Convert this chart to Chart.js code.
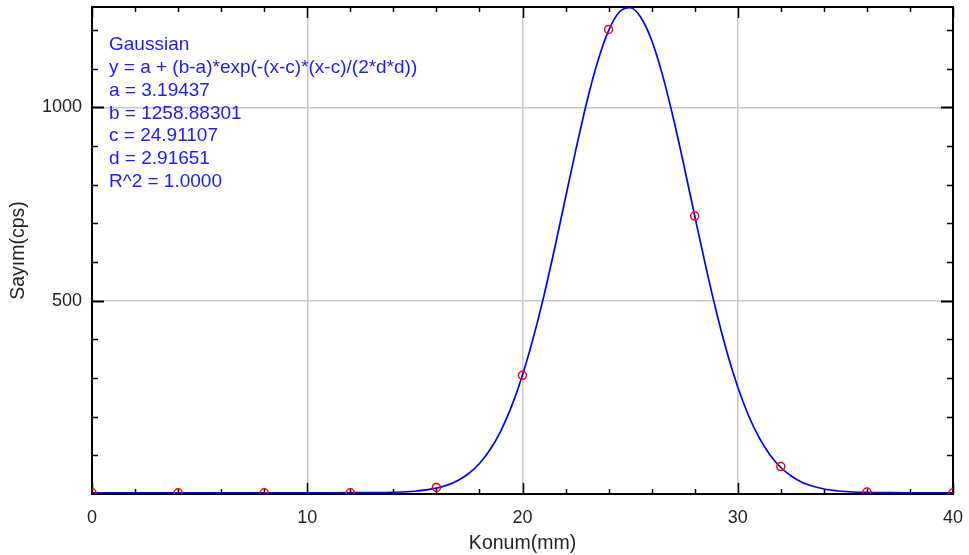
<!DOCTYPE html>
<html>
<head>
<meta charset="utf-8">
<script src="https://cdn.jsdelivr.net/npm/chart.js@4.4.1/dist/chart.umd.min.js"></script>
<style>
html,body{margin:0;padding:0;background:#fff;}
#wrap{width:969px;height:555px;position:relative;}
</style>
</head>
<body>
<div id="wrap"><canvas id="c"></canvas></div>
<script>
// Measured points (Konum mm, Sayım cps)
const pointX = [0, 4, 8, 12, 16, 20, 24, 28, 32, 36, 40];
const pointY = [3, 3, 3, 3, 17, 307, 1202, 719, 71, 5, 3];

// Fitted curve
const curveX = [0, 2, 4, 6, 8, 10, 12, 13, 14, 15, 16, 16.5, 17, 17.5, 18, 18.5, 19, 19.5, 20, 20.5, 21, 21.5, 22, 22.5, 23, 23.5, 24, 24.5, 25, 25.5, 26, 26.5, 27, 27.5, 28, 28.5, 29, 29.5, 30, 30.5, 31, 31.5, 32, 32.5, 33, 33.5, 34, 35, 36, 37, 38, 40];
const curveY = [3.2, 3.2, 3.2, 3.2, 3.2, 3.2, 3.3, 3.5, 4.3, 7.1, 15, 23, 35, 53, 79, 115, 164, 228, 308, 404, 514, 637, 767, 896, 1017, 1120, 1199, 1247, 1258, 1233, 1174, 1085, 974, 850, 720, 592, 473, 367, 277, 203, 145, 101, 68.6, 46, 30, 20, 13, 6.4, 4.1, 3.4, 3.2, 3.2];

const fitLines = [
  "Gaussian",
  "y = a + (b-a)*exp(-(x-c)*(x-c)/(2*d*d))",
  "a = 3.19437",
  "b = 1258.88301",
  "c = 24.91107",
  "d = 2.91651",
  "R^2 = 1.0000"
];

const xMajor = [0, 10, 20, 30, 40];
const yMajor = [500, 1000];
const xLabel = "Konum(mm)";
const yLabel = "Sayım(cps)";

const FONT = "'Liberation Sans', Arial, sans-serif";

const frame = {
  id: 'frame',
  beforeDatasetsDraw(chart) {
    const {ctx, chartArea: a, scales: {x, y}} = chart;
    ctx.save();
    ctx.strokeStyle = '#000';
    ctx.lineWidth = 1.5;
    for (let v = 0; v <= 40; v += 2) {
      const px = Math.round(x.getPixelForValue(v)) + 0.5;
      const len = (v % 10 === 0) ? 11 : 5;
      ctx.beginPath();
      ctx.moveTo(px, a.bottom); ctx.lineTo(px, a.bottom - len);
      ctx.moveTo(px, a.top); ctx.lineTo(px, a.top + len);
      ctx.stroke();
    }
    for (let v = 100; v < 1260; v += 100) {
      const py = Math.round(y.getPixelForValue(v)) + 0.5;
      const len = (v % 500 === 0) ? 12 : 6;
      ctx.lineWidth = (v % 500 === 0) ? 2 : 1.5;
      ctx.beginPath();
      ctx.moveTo(a.left, py); ctx.lineTo(a.left + len, py);
      ctx.moveTo(a.right, py); ctx.lineTo(a.right - len, py);
      ctx.stroke();
    }
    ctx.lineWidth = 2;
    ctx.strokeRect(a.left, a.top, a.right - a.left, a.bottom - a.top);
    ctx.restore();
  },
  afterDraw(chart) {
    const {ctx} = chart;
    ctx.save();
    ctx.fillStyle = '#1a1aff';
    ctx.font = "19px " + FONT;
    ctx.textBaseline = 'middle';
    ctx.textAlign = 'left';
    fitLines.forEach((t, i) => ctx.fillText(t, 109, 45 + i * 22.8));
    ctx.restore();
  }
};

new Chart(document.getElementById('c'), {
  type: 'scatter',
  data: {
    datasets: [
      {
        label: 'fit',
        data: curveX.map((v, i) => ({x: v, y: curveY[i]})),
        showLine: true,
        borderColor: '#0000ff',
        borderWidth: 1.7,
        pointRadius: 0,
        cubicInterpolationMode: 'monotone',
        clip: 0,
        order: 2
      },
      {
        label: 'data',
        data: pointX.map((v, i) => ({x: v, y: pointY[i]})),
        showLine: false,
        borderColor: '#ff0000',
        backgroundColor: 'rgba(0,0,0,0)',
        borderWidth: 1.5,
        pointRadius: 4,
        clip: 0,
        order: 1
      }
    ]
  },
  options: {
    responsive: true,
    maintainAspectRatio: false,
    animation: false,
    layout: {padding: {top: 7, right: 16, left: 0, bottom: 0}},
    plugins: {legend: {display: false}, tooltip: {enabled: false}},
    scales: {
      x: {
        type: 'linear', min: 0, max: 40,
        border: {display: false},
        afterBuildTicks: s => { s.ticks = xMajor.map(v => ({value: v})); },
        ticks: {
          autoSkip: false, maxRotation: 0,
          color: '#222', padding: 13,
          font: {family: FONT, size: 18},
          callback: v => String(v)
        },
        grid: {
          drawTicks: false,
          lineWidth: 1.5,
          color: c => (c.tick && c.tick.value > 0 && c.tick.value < 40) ? '#c8c8c8' : 'rgba(0,0,0,0)'
        },
        title: {display: true, text: xLabel, color: '#222', font: {family: FONT, size: 19.5}, padding: {top: 0, bottom: 0}},
        afterFit: s => { s.height = 61; s.paddingLeft = 0; s.paddingRight = 0; }
      },
      y: {
        type: 'linear', min: 0, max: 1260,
        border: {display: false},
        afterBuildTicks: s => { s.ticks = yMajor.map(v => ({value: v})); },
        ticks: {
          autoSkip: false,
          color: '#222', padding: 10,
          font: {family: FONT, size: 18},
          callback: v => String(v)
        },
        grid: {
          drawTicks: false,
          lineWidth: 1.5,
          color: c => (c.tick && yMajor.includes(c.tick.value)) ? '#c8c8c8' : 'rgba(0,0,0,0)'
        },
        title: {display: true, text: yLabel, color: '#222', font: {family: FONT, size: 19.5}, padding: {top: 7, bottom: 0}},
        afterFit: s => { s.width = 92; s.paddingTop = 0; s.paddingBottom = 0; }
      }
    }
  },
  plugins: [frame]
});
</script>
</body>
</html>
